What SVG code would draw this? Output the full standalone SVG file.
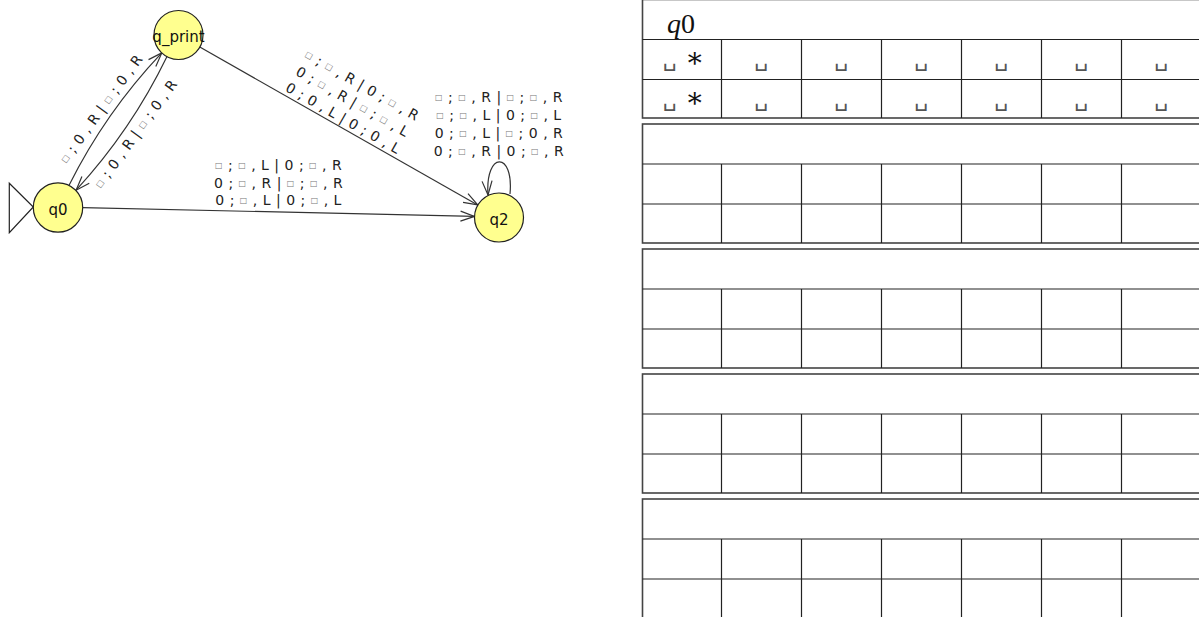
<svg xmlns="http://www.w3.org/2000/svg" width="1199" height="617" viewBox="0 0 1199 617">
<defs>
<style>
.st{fill:#ffff8f;stroke:#222;stroke-width:1.2}
.nl{font-family:"DejaVu Sans",sans-serif;font-size:15px;fill:#111;text-anchor:middle}
.e{fill:none;stroke:#333;stroke-width:1.2}
.lb{font-family:"DejaVu Sans",sans-serif;font-size:14px;fill:#222;text-anchor:middle;letter-spacing:0.5px}
.b{font-size:8px;fill:#777;baseline-shift:2px}
.tb{fill:#fff;stroke:#444;stroke-width:1.6}
.tl{stroke:#222;stroke-width:1.2}
.sp{font-family:"DejaVu Sans",sans-serif;font-size:22px;fill:#555;text-anchor:middle}
.ast{font-family:"DejaVu Serif",serif;font-size:28px;fill:#111;text-anchor:middle}
</style>
<marker id="arr" markerUnits="userSpaceOnUse" markerWidth="20" markerHeight="14" refX="14" refY="5" orient="auto" overflow="visible">
<path d="M0,0 L14,5 L0,10" fill="none" stroke="#333" stroke-width="1.2"/>
</marker>
</defs>
<rect width="1199" height="617" fill="#fff"/>

<g id="connectors">
<path class="e" d="M69.2,185 Q105.7,112.1 161.8,52.9" marker-end="url(#arr)"/>
<path class="e" d="M167,56.6 Q131.3,130.3 76.1,190.2" marker-end="url(#arr)"/>
<path class="e" d="M199.8,47.1 L477.7,204.9" marker-end="url(#arr)"/>
<path class="e" d="M82.7,207.6 L474.5,216.4" marker-end="url(#arr)"/>
<path class="e" d="M510,194 C514,151 485,151 488,195" marker-end="url(#arr)"/>

<g transform="translate(101.5,109) rotate(-54)">
<text class="lb" x="0" y="4.5"><tspan class="b">□</tspan> ; 0 , R | <tspan class="b">□</tspan> ; 0 , R</text>
</g>
<g transform="translate(136,134) rotate(-54)">
<text class="lb" x="0" y="4.5"><tspan class="b">□</tspan> ; 0 , R | <tspan class="b">□</tspan> ; 0 , R</text>
</g>
<g transform="translate(338.8,126) rotate(29.6)">
<text class="lb" x="0" y="-42"><tspan class="b">□</tspan> ; <tspan class="b">□</tspan> , R | 0 ; <tspan class="b">□</tspan> , R</text>
<text class="lb" x="0" y="-23">0 ; <tspan class="b">□</tspan> , R | <tspan class="b">□</tspan> ; <tspan class="b">□</tspan> , L</text>
<text class="lb" x="0" y="-4">0 ; 0 , L | 0 ; 0 , L</text>
</g>
<text class="lb" x="278.6" y="170"><tspan class="b">□</tspan> ; <tspan class="b">□</tspan> , L | 0 ; <tspan class="b">□</tspan> , R</text>
<text class="lb" x="278.6" y="187.5">0 ; <tspan class="b">□</tspan> , R | <tspan class="b">□</tspan> ; <tspan class="b">□</tspan> , R</text>
<text class="lb" x="278.6" y="205">0 ; <tspan class="b">□</tspan> , L | 0 ; <tspan class="b">□</tspan> , L</text>

<text class="lb" x="499" y="101.5"><tspan class="b">□</tspan> ; <tspan class="b">□</tspan> , R | <tspan class="b">□</tspan> ; <tspan class="b">□</tspan> , R</text>
<text class="lb" x="499" y="120"><tspan class="b">□</tspan> ; <tspan class="b">□</tspan> , L | 0 ; <tspan class="b">□</tspan> , L</text>
<text class="lb" x="499" y="138">0 ; <tspan class="b">□</tspan> , L | <tspan class="b">□</tspan> ; 0 , R</text>
<text class="lb" x="499" y="155.5">0 ; <tspan class="b">□</tspan> , R | 0 ; <tspan class="b">□</tspan> , R</text>
</g>

<g id="q0">
<path d="M9.3,183.3 L33.3,207 L9.3,232.7 Z" fill="#fff" stroke="#222" stroke-width="1.2"/>
<circle class="st" cx="58" cy="207.5" r="24.7"/>
<text class="nl" x="58" y="214.5">q0</text>
</g>
<g id="q_print">
<circle class="st" cx="178.5" cy="35" r="24.5"/>
<text class="nl" x="178.5" y="42">q_print</text>
</g>
<g id="q2">
<circle class="st" cx="499" cy="217.5" r="24.5"/>
<text class="nl" x="499" y="224.5">q2</text>
</g>

<g id="block1">
<rect class="tb" x="642.5" y="-0.5" width="600" height="118.5"/>
<path class="tl" d="M642.5,39.5H1199M642.5,79.5H1199M721.5,39.5V118M801.5,39.5V118M881.5,39.5V118M961.5,39.5V118M1041.5,39.5V118M1121.5,39.5V118"/>
<text x="667" y="33" font-family="Liberation Serif" font-size="28" fill="#111"><tspan font-style="italic">q</tspan>0</text>
<text class="sp" x="670" y="66">␣</text><text class="ast" x="694.5" y="67">∗</text>
<text class="sp" x="761.5" y="66">␣</text><text class="sp" x="841.5" y="66">␣</text><text class="sp" x="921.5" y="66">␣</text><text class="sp" x="1001.5" y="66">␣</text><text class="sp" x="1081.5" y="66">␣</text><text class="sp" x="1161.5" y="66">␣</text>
<text class="sp" x="670" y="106">␣</text><text class="ast" x="694.5" y="107">∗</text>
<text class="sp" x="761.5" y="106">␣</text><text class="sp" x="841.5" y="106">␣</text><text class="sp" x="921.5" y="106">␣</text><text class="sp" x="1001.5" y="106">␣</text><text class="sp" x="1081.5" y="106">␣</text><text class="sp" x="1161.5" y="106">␣</text>
</g>
<g id="block2">
<rect class="tb" x="642.5" y="124" width="600" height="119"/>
<path class="tl" d="M642.5,164H1199M642.5,204H1199M721.5,164V243M801.5,164V243M881.5,164V243M961.5,164V243M1041.5,164V243M1121.5,164V243"/>
</g>
<g id="block3">
<rect class="tb" x="642.5" y="249" width="600" height="119"/>
<path class="tl" d="M642.5,289H1199M642.5,329H1199M721.5,289V368M801.5,289V368M881.5,289V368M961.5,289V368M1041.5,289V368M1121.5,289V368"/>
</g>
<g id="block4">
<rect class="tb" x="642.5" y="374" width="600" height="119"/>
<path class="tl" d="M642.5,414H1199M642.5,454H1199M721.5,414V493M801.5,414V493M881.5,414V493M961.5,414V493M1041.5,414V493M1121.5,414V493"/>
</g>
<g id="block5">
<rect class="tb" x="642.5" y="499" width="600" height="119"/>
<path class="tl" d="M642.5,539H1199M642.5,579H1199M721.5,539V618M801.5,539V618M881.5,539V618M961.5,539V618M1041.5,539V618M1121.5,539V618"/>
</g>
</svg>
